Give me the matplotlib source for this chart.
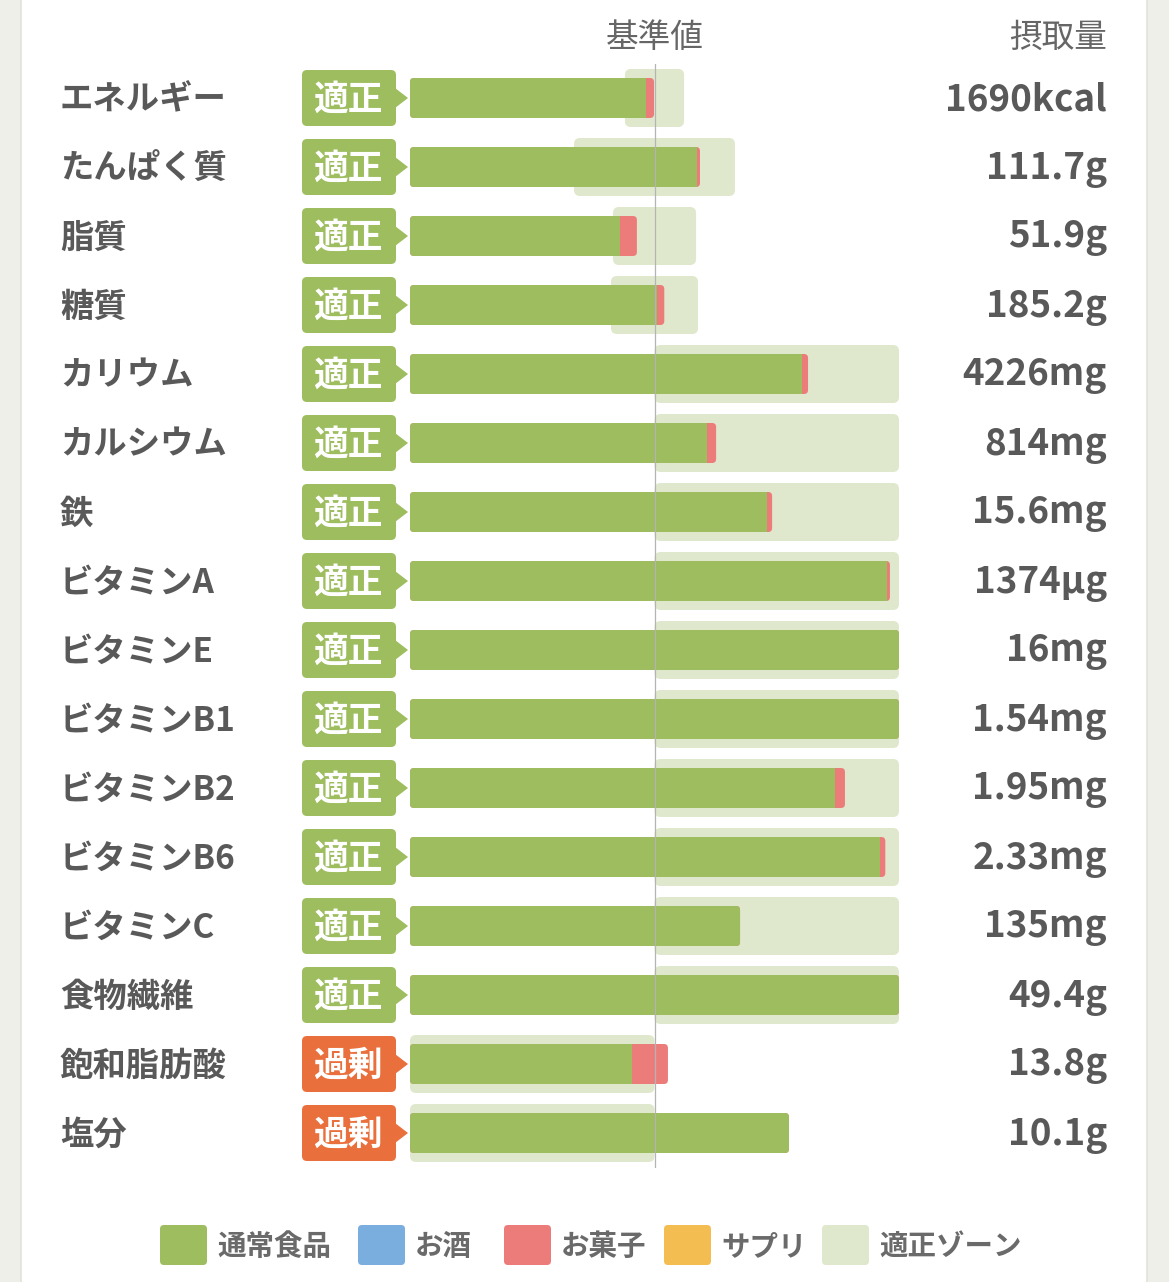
import matplotlib
matplotlib.use("Agg")
import matplotlib.pyplot as plt
from matplotlib.patches import FancyBboxPatch, Rectangle, Polygon

plt.rcParams['font.family'] = ['Noto Sans CJK JP', 'DejaVu Sans']

# nutrients, top to bottom
nutrients = ["エネルギー", "たんぱく質", "脂質", "糖質", "カリウム", "カルシウム", "鉄",
             "ビタミンA", "ビタミンE", "ビタミンB1", "ビタミンB2", "ビタミンB6",
             "ビタミンC", "食物繊維", "飽和脂肪酸", "塩分"]
intake = ["1690kcal", "111.7g", "51.9g", "185.2g", "4226mg", "814mg", "15.6mg",
          "1374μg", "16mg", "1.54mg", "1.95mg", "2.33mg", "135mg", "49.4g",
          "13.8g", "10.1g"]
status = ["適正"] * 14 + ["過剰"] * 2

# values in % of the reference value (基準値 = 100), the chart caps at 200
food = [96.5, 117.4, 85.9, 101.0, 160.3, 121.5, 146.0, 195.1, 200, 200,
        173.8, 192.2, 135.0, 200, 90.8, 155.0]
sweets = [3.3, 1.2, 6.9, 3.0, 2.5, 3.7, 2.1, 1.2, 0, 0,
          4.1, 2.2, 0, 0, 14.7, 0]
zone_lo = [87.9, 67.1, 83.0, 82.2, 100, 100, 100, 100, 100, 100,
           100, 100, 100, 100, 0, 0]
zone_hi = [112.1, 132.9, 117.0, 117.8, 200, 200, 200, 200, 200, 200,
           200, 200, 200, 200, 100, 100]

legend_labels = ["通常食品", "お酒", "お菓子", "サプリ", "適正ゾーン"]

GREEN = "#9dbd5f"
RED = "#ec7c7a"
BLUE = "#7aaede"
ORANGE = "#f3bd52"
ZONE = "#dfe8cc"
BADGE = {"適正": "#9dbd5f", "過剰": "#e9703c"}
TXT = "#595959"
legend_colors = [GREEN, BLUE, RED, ORANGE, ZONE]

W, H = 1169, 1282
fig = plt.figure(figsize=(W / 100, H / 100), dpi=100)
fig.patch.set_facecolor("#efefea")

# page axes in pixel units for the card, texts, badges and legend
bg = fig.add_axes([0, 0, 1, 1])
bg.set_xlim(0, W)
bg.set_ylim(H, 0)
bg.axis("off")
bg.add_patch(Rectangle((21, -5), 1126, H + 10, facecolor="white",
                       edgecolor="#e2e2dc", lw=1.2))

row0, step = 98, 69
n = len(nutrients)

bg.text(655, 38, "基準値", ha="center", va="center", fontsize=23.5, color="#666666")
bg.text(1107, 38, "摂取量", ha="right", va="center", fontsize=23.5, color="#666666")

for i in range(n):
    yc = row0 + step * i
    bg.text(60, yc + 2, nutrients[i], ha="left", va="center", fontsize=24,
            fontweight="bold", color=TXT)
    bg.text(1107, yc + 2, intake[i], ha="right", va="center", fontsize=26.5,
            fontweight="bold", color=TXT)
    col = BADGE[status[i]]
    bg.add_patch(FancyBboxPatch((302, yc - 28), 94, 56,
                                boxstyle="round,pad=0,rounding_size=5",
                                facecolor=col, edgecolor="none"))
    bg.add_patch(Polygon([(395, yc - 10), (408, yc), (395, yc + 10)],
                         closed=True, facecolor=col, edgecolor="none"))
    bg.text(348, yc + 1, status[i], ha="center", va="center", fontsize=25,
            fontweight="bold", color="white")

# legend
sq_x = [160, 358, 504, 664, 822]
for x, c, lab in zip(sq_x, legend_colors, legend_labels):
    bg.add_patch(FancyBboxPatch((x, 1225), 47, 40,
                                boxstyle="round,pad=0,rounding_size=4",
                                facecolor=c, edgecolor="none"))
    bg.text(x + 57, 1247, lab, ha="left", va="center", fontsize=20.5,
            fontweight="bold", color="#6a6a6a")

# bar axes: x in % of reference, 0% at 410px, 200% at 899px
x0_px, x1_px = 410, 899
px_x = (x1_px - x0_px) / 200.0
top_px = row0 - step / 2
bot_px = row0 + step * (n - 1) + step / 2
ax = fig.add_axes([x0_px / W, 1 - bot_px / H, (x1_px - x0_px) / W, (bot_px - top_px) / H])
ax.set_xlim(0, 200)
ax.set_ylim(n - 0.5, -0.5)
ax.axis("off")
ax.patch.set_alpha(0)

asp = px_x / step


def rounded(x, y, w, h, r_px, color, z):
    p = FancyBboxPatch((x, y), w, h,
                       boxstyle=f"round,pad=0,rounding_size={r_px / px_x}",
                       mutation_aspect=asp, facecolor=color, edgecolor="none", zorder=z)
    ax.add_patch(p)
    return p


zone_h = 58 / step
bar_h = 40 / step
for i in range(n):
    rounded(zone_lo[i], i - zone_h / 2, zone_hi[i] - zone_lo[i], zone_h, 6, ZONE, 1)
    total = food[i] + sweets[i]
    outer = rounded(0, i - bar_h / 2, total, bar_h, 4, RED, 2)
    g = Rectangle((0, i - bar_h / 2), food[i], bar_h, facecolor=GREEN,
                  edgecolor="none", zorder=3)
    ax.add_patch(g)
    g.set_clip_path(outer)

ax.axvline(100, color="#b4b4b4", lw=0.9, zorder=5)

fig.savefig("out.png", dpi=100, facecolor=fig.get_facecolor())
